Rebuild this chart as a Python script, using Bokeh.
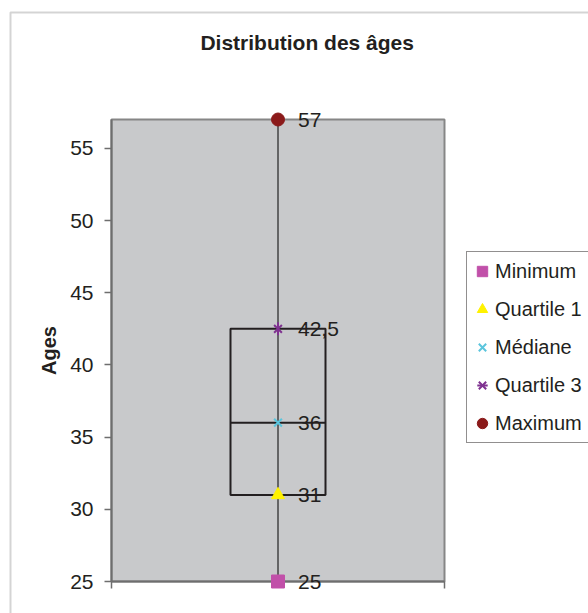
from bokeh.plotting import figure
from bokeh.models import Range1d, FixedTicker, Legend, LegendItem, Label, BoxAnnotation
from bokeh.core.properties import value
from bokeh.embed import file_html
from bokeh.resources import INLINE
import math

# ---- data ----
stats = ["Minimum", "Quartile 1", "Médiane", "Quartile 3", "Maximum"]
ages = [25, 31, 36, 42.5, 57]
markers = ["square", "triangle", "x", "star6", "circle"]
colors = ["#C150A9", "#FFF200", "#5BC5DD", "#7F3290", "#8B1A1A"]
y_ticks = [25, 30, 35, 40, 45, 50, 55]
title_text = "Distribution des âges"
y_label = "Ages"


def fmt(v):
    return f"{v:g}".replace(".", ",")


# ---- layout constants (canvas pixels) ----
W, H = 588, 613
GRAY_LEFT, GRAY_RIGHT, GRAY_TOP, GRAY_BOTTOM = 111, 444, 119, 581
TXT = "#231F20"
AXC = "#6E6E6E"
FONT = "Liberation Sans"

y_lo, y_hi = y_ticks[0], max(ages)
ppu_y = (GRAY_BOTTOM - GRAY_TOP) / (y_hi - y_lo)
ppu_x = GRAY_RIGHT - GRAY_LEFT


def x_at(px):
    return (px - GRAY_LEFT) / ppu_x


def y_at(py):
    return y_hi - (py - GRAY_TOP) / ppu_y


center = 0.5
half_box = (326 - 231) / 2 / ppu_x
tick_len = 7 / ppu_y

p = figure(width=W, height=H,
           x_range=Range1d(x_at(0), x_at(W)),
           y_range=Range1d(y_at(H), y_at(0)),
           x_axis_location=None,
           output_backend="svg", toolbar_location=None,
           min_border_left=0, min_border_right=0,
           min_border_top=0, min_border_bottom=0)
p.outline_line_color = None
p.grid.visible = False
p.background_fill_color = "white"
p.border_fill_color = "white"

# outer chart border
p.add_layout(BoxAnnotation(left=x_at(10), right=x_at(800), top=y_at(12), bottom=y_at(900),
                           fill_alpha=0, line_color="#6F6F6F", line_width=2, level="underlay"))

# gray plot area
p.quad(left=0, right=1, bottom=y_lo, top=y_hi,
       fill_color="#C8C9CB", line_color="#868686", line_width=2)

# bottom axis line and its end ticks
p.segment(x0=[0], y0=[y_lo], x1=[1], y1=[y_lo], line_color=AXC, line_width=2)
p.segment(x0=[0, 1], y0=[y_lo, y_lo], x1=[0, 1], y1=[y_lo - tick_len] * 2,
          line_color=AXC, line_width=1.5)

q_min, q1, med, q3, q_max = ages
# whisker
p.segment(x0=[center], y0=[q_min], x1=[center], y1=[q_max], line_color="#000000", line_width=1)
# box
p.quad(left=center - half_box, right=center + half_box, bottom=q1, top=q3,
       fill_alpha=0, line_color=TXT, line_width=2)
p.segment(x0=[center - half_box], y0=[med], x1=[center + half_box], y1=[med],
          line_color=TXT, line_width=2)

# data labels
p.text(x=[center] * len(ages), y=ages, text=[fmt(a) for a in ages],
       x_offset=20, text_baseline="middle", text_align="left",
       text_font=value(FONT), text_font_size="21px", text_color=TXT)

sizes = {"square": 13, "triangle": 13, "x": 11, "star6": 11, "circle": 13}
items = []
for s, a, m, c in zip(stats, ages, markers, colors):
    if m == "star6":
        r1 = p.scatter(x=[center], y=[a], marker="x", size=sizes[m],
                       line_color=c, line_width=2)
        r2 = p.scatter(x=[center], y=[a], marker="dash", size=sizes[m] + 2, angle=math.pi / 2,
                       line_color=c, line_width=2)
        items.append(LegendItem(label=s, renderers=[r1, r2]))
    else:
        r = p.scatter(x=[center], y=[a], marker=m, size=sizes[m],
                      fill_color=c, line_color=c, line_width=2 if m == "x" else 1)
        items.append(LegendItem(label=s, renderers=[r]))

# y axis, fixed at the left edge of the gray area
ya = p.yaxis[0]
ya.fixed_location = 0
ya.ticker = FixedTicker(ticks=y_ticks)
ya.bounds = (y_lo, y_hi)
ya.axis_label = y_label
ya.axis_label_text_font = FONT
ya.axis_label_text_font_style = "bold"
ya.axis_label_text_font_size = "20px"
ya.axis_label_text_color = TXT
ya.axis_label_standoff = 7
ya.major_label_text_font = FONT
ya.major_label_text_font_size = "21px"
ya.major_label_text_color = TXT
ya.major_label_standoff = 11
ya.major_tick_out = 7
ya.major_tick_in = 0
ya.minor_tick_out = 0
ya.minor_tick_in = 0
ya.axis_line_color = AXC
ya.axis_line_width = 2
ya.major_tick_line_color = AXC
ya.major_tick_line_width = 1.5

# title
p.add_layout(Label(x=x_at(306.7), y=y_at(42), text=title_text,
                   text_align="center", text_baseline="middle",
                   text_font=FONT, text_font_style="bold",
                   text_font_size="21px", text_color=TXT))

legend = Legend(items=items, location=(466, H - 443),
                orientation="vertical", glyph_width=26, glyph_height=34,
                padding=2, spacing=4, label_standoff=0, label_width=100, margin=0,
                border_line_color=TXT, border_line_width=1,
                background_fill_color="white", background_fill_alpha=1,
                label_text_font=FONT, label_text_font_size="20px", label_text_color=TXT)
p.add_layout(legend, "center")

open("out.html", "w").write(file_html(p, INLINE))
